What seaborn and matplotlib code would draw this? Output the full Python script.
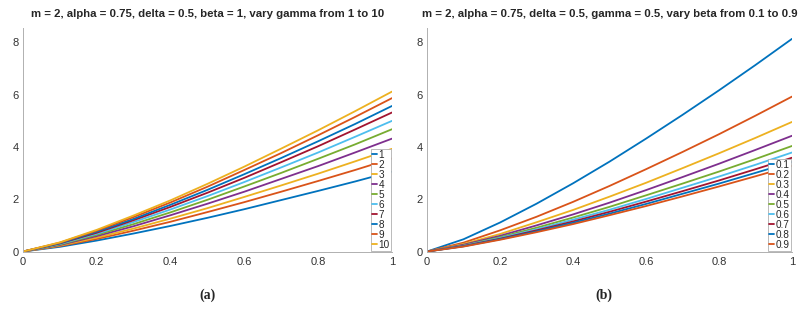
import numpy as np
import pandas as pd
import matplotlib
matplotlib.use("Agg")
import matplotlib.pyplot as plt
import seaborn as sns

sns.set_style("white")
plt.rcParams["font.family"] = ["Liberation Sans", "DejaVu Sans"]

# x grid shared by every curve
x = [0.0, 0.1, 0.2, 0.3, 0.4, 0.5, 0.6, 0.7, 0.8, 0.9, 1.0]

# (a) vary gamma from 1 to 10
gamma_labels = ["1", "2", "3", "4", "5", "6", "7", "8", "9", "10"]
gamma_1 = [0, 0.18, 0.42, 0.69, 0.98, 1.29, 1.62, 1.97, 2.32, 2.68, 3.06]
gamma_2 = [0, 0.21, 0.48, 0.80, 1.14, 1.51, 1.89, 2.29, 2.70, 3.12, 3.56]
gamma_3 = [0, 0.23, 0.53, 0.88, 1.26, 1.66, 2.09, 2.53, 2.98, 3.45, 3.93]
gamma_4 = [0, 0.25, 0.59, 0.97, 1.39, 1.83, 2.29, 2.78, 3.27, 3.79, 4.32]
gamma_5 = [0, 0.27, 0.64, 1.05, 1.50, 1.98, 2.49, 3.01, 3.55, 4.10, 4.68]
gamma_6 = [0, 0.29, 0.68, 1.13, 1.61, 2.12, 2.66, 3.22, 3.79, 4.39, 5.00]
gamma_7 = [0, 0.31, 0.72, 1.20, 1.71, 2.25, 2.82, 3.42, 4.03, 4.67, 5.32]
gamma_8 = [0, 0.32, 0.76, 1.25, 1.79, 2.36, 2.96, 3.58, 4.22, 4.88, 5.57]
gamma_9 = [0, 0.34, 0.80, 1.32, 1.88, 2.48, 3.12, 3.77, 4.45, 5.15, 5.87]
gamma_10 = [0, 0.35, 0.83, 1.38, 1.96, 2.59, 3.25, 3.94, 4.64, 5.37, 6.12]
gamma_series = [gamma_1, gamma_2, gamma_3, gamma_4, gamma_5,
                gamma_6, gamma_7, gamma_8, gamma_9, gamma_10]

# (b) vary beta from 0.1 to 0.9
beta_labels = ["0.1", "0.2", "0.3", "0.4", "0.5", "0.6", "0.7", "0.8", "0.9"]
beta_01 = [0, 0.47, 1.11, 1.83, 2.61, 3.44, 4.32, 5.23, 6.17, 7.14, 8.14]
beta_02 = [0, 0.34, 0.81, 1.33, 1.90, 2.51, 3.15, 3.81, 4.49, 5.20, 5.93]
beta_03 = [0, 0.29, 0.67, 1.12, 1.59, 2.10, 2.63, 3.19, 3.76, 4.35, 4.96]
beta_04 = [0, 0.26, 0.60, 1.00, 1.42, 1.87, 2.35, 2.85, 3.36, 3.89, 4.43]
beta_05 = [0, 0.23, 0.55, 0.91, 1.30, 1.71, 2.15, 2.60, 3.06, 3.54, 4.04]
beta_06 = [0, 0.22, 0.52, 0.85, 1.22, 1.60, 2.01, 2.44, 2.87, 3.32, 3.79]
beta_07 = [0, 0.21, 0.49, 0.81, 1.15, 1.52, 1.91, 2.31, 2.72, 3.15, 3.59]
beta_08 = [0, 0.20, 0.47, 0.77, 1.10, 1.45, 1.82, 2.21, 2.60, 3.01, 3.43]
beta_09 = [0, 0.19, 0.45, 0.74, 1.05, 1.39, 1.74, 2.11, 2.49, 2.88, 3.28]
beta_series = [beta_01, beta_02, beta_03, beta_04, beta_05,
               beta_06, beta_07, beta_08, beta_09]

# matlab default color order
mcolors = ["#0072BD", "#D95319", "#EDB120", "#7E2F8E", "#77AC30",
           "#4DBEEE", "#A2142F"]

titles = ["m = 2, alpha = 0.75, delta = 0.5, beta = 1, vary gamma from 1 to 10",
          "m = 2, alpha = 0.75, delta = 0.5, gamma = 0.5, vary beta from 0.1 to 0.9"]

fig = plt.figure(figsize=(8.03, 3.09), dpi=100)
ax_a = fig.add_axes([0.0286, 0.186, 0.4595, 0.723])
ax_b = fig.add_axes([0.5318, 0.186, 0.4545, 0.723])

panels = [(ax_a, gamma_series, gamma_labels), (ax_b, beta_series, beta_labels)]
for i, (ax, series, labels) in enumerate(panels):
    rows = []
    for lab, vals in zip(labels, series):
        for xv, yv in zip(x, vals):
            rows.append((lab, xv, yv))
    df = pd.DataFrame(rows, columns=["param", "x", "y"])
    pal = [mcolors[k % 7] for k in range(len(labels))]
    sns.lineplot(data=df, x="x", y="y", hue="param", hue_order=labels,
                 palette=pal, ax=ax, linewidth=1.3, legend=True)

    ax.set_xlim(0, 1)
    ax.set_ylim(0, 8.55)
    ax.set_xticks([0, 0.2, 0.4, 0.6, 0.8, 1.0])
    ax.set_xticklabels(["0", "0.2", "0.4", "0.6", "0.8", "1"])
    ax.set_yticks([0, 2, 4, 6, 8])
    ax.set_xlabel("")
    ax.set_ylabel("")
    ax.tick_params(direction="in", length=3, width=0.6, colors="#b0b0b0",
                   labelcolor="#333333", labelsize=8)
    ax.tick_params(axis="x", pad=4)
    ax.tick_params(axis="y", pad=3)
    for s in ["top", "right"]:
        ax.spines[s].set_visible(False)
    for s in ["left", "bottom"]:
        ax.spines[s].set_color("#b0b0b0")
        ax.spines[s].set_linewidth(0.7)
    ax.set_title(titles[i], fontsize=8.2, fontweight="bold", pad=8)

    handles, labs = ax.get_legend_handles_labels()
    leg = ax.legend(handles, labs, loc="lower right", fontsize=7.2,
                    handlelength=0.5, handletextpad=0.2, borderpad=0.1,
                    labelspacing=0.0, borderaxespad=0.1, fancybox=False,
                    framealpha=1, edgecolor="#b0b0b0")
    leg.get_frame().set_linewidth(0.6)

fig.text(0.258, 0.045, "(a)", ha="center", va="center", fontsize=10,
         fontweight="bold", family=["Liberation Serif", "DejaVu Serif"])
fig.text(0.752, 0.045, "(b)", ha="center", va="center", fontsize=10,
         fontweight="bold", family=["Liberation Serif", "DejaVu Serif"])

fig.savefig("out.png", dpi=100)
